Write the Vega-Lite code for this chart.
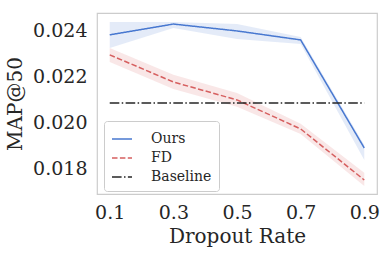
{
  "$schema": "https://vega.github.io/schema/vega-lite/v6.json",
  "width": 280,
  "height": 181,
  "autosize": "none",
  "padding": {"left": 97, "top": 13, "right": 12, "bottom": 59},
  "background": "white",
  "config": {
    "view": {"stroke": "#cccccc", "strokeWidth": 1.2},
    "font": "DejaVu Serif",
    "axis": {
      "domain": false, "ticks": false, "grid": false,
      "labelFont": "DejaVu Serif", "labelFontSize": 19, "labelColor": "#262626",
      "titleFont": "DejaVu Serif", "titleFontSize": 20, "titleFontWeight": "normal", "titleColor": "#262626"
    }
  },
  "datasets": {
    "lines": [
      {"series": "Ours", "rate": 0.1, "map": 0.02383},
      {"series": "Ours", "rate": 0.3, "map": 0.0243},
      {"series": "Ours", "rate": 0.5, "map": 0.0240},
      {"series": "Ours", "rate": 0.7, "map": 0.02361},
      {"series": "Ours", "rate": 0.9, "map": 0.01891},
      {"series": "FD", "rate": 0.1, "map": 0.02296},
      {"series": "FD", "rate": 0.3, "map": 0.02178},
      {"series": "FD", "rate": 0.5, "map": 0.0210},
      {"series": "FD", "rate": 0.7, "map": 0.01974},
      {"series": "FD", "rate": 0.9, "map": 0.01752},
      {"series": "Baseline", "rate": 0.1, "map": 0.02087},
      {"series": "Baseline", "rate": 0.9, "map": 0.02087}
    ],
    "bands": [
      {"series": "Ours", "rate": 0.1, "lo": 0.02326, "hi": 0.02439},
      {"series": "Ours", "rate": 0.3, "lo": 0.02413, "hi": 0.02439},
      {"series": "Ours", "rate": 0.5, "lo": 0.02365, "hi": 0.0243},
      {"series": "Ours", "rate": 0.7, "lo": 0.02343, "hi": 0.02374},
      {"series": "Ours", "rate": 0.9, "lo": 0.01839, "hi": 0.01904},
      {"series": "FD", "rate": 0.1, "lo": 0.02265, "hi": 0.02326},
      {"series": "FD", "rate": 0.3, "lo": 0.02148, "hi": 0.02209},
      {"series": "FD", "rate": 0.5, "lo": 0.0207, "hi": 0.0213},
      {"series": "FD", "rate": 0.7, "lo": 0.01952, "hi": 0.01996},
      {"series": "FD", "rate": 0.9, "lo": 0.01726, "hi": 0.01783}
    ]
  },
  "layer": [
    {
      "data": {"name": "bands"},
      "mark": {"type": "area", "opacity": 0.15},
      "encoding": {
        "x": {"field": "rate", "type": "quantitative", "scale": {"domain": [0.06, 0.94], "nice": false, "zero": false},
              "axis": {"values": [0.1, 0.3, 0.5, 0.7, 0.9], "format": ".1f", "labelPadding": 9, "titlePadding": 4, "title": "Dropout Rate"}},
        "y": {"field": "lo", "type": "quantitative", "scale": {"domain": [0.01691, 0.02478], "nice": false, "zero": false},
              "axis": {"values": [0.018, 0.020, 0.022, 0.024], "format": ".3f", "labelPadding": 10, "titlePadding": 7, "title": "MAP@50"}},
        "y2": {"field": "hi"},
        "fill": {"field": "series", "type": "nominal", "scale": {"domain": ["Ours", "FD"], "range": ["#4878d0", "#d65f5f"]}, "legend": null},
        "detail": {"field": "series"}
      }
    },
    {
      "data": {"name": "lines"},
      "mark": {"type": "line", "strokeWidth": 1.5},
      "encoding": {
        "x": {"field": "rate", "type": "quantitative"},
        "y": {"field": "map", "type": "quantitative"},
        "color": {"field": "series", "type": "nominal", "sort": ["Ours", "FD", "Baseline"],
                  "scale": {"domain": ["Ours", "FD", "Baseline"], "range": ["#4878d0", "#d65f5f", "#262626"]},
                  "legend": {"title": null, "orient": "none", "legendX": 7, "legendY": 108,
                             "symbolType": "stroke", "symbolStrokeWidth": 1.5, "symbolSize": 400,
                             "labelFont": "DejaVu Serif", "labelFontSize": 14, "labelColor": "#262626", "labelOffset": 18,
                             "rowPadding": 1, "padding": 7, "fillColor": "white", "strokeColor": "#cccccc", "cornerRadius": 3}},
        "strokeDash": {"field": "series", "type": "nominal", "sort": ["Ours", "FD", "Baseline"],
                       "scale": {"domain": ["Ours", "FD", "Baseline"], "range": [[1, 0], [5.5, 2.4], [9.6, 2.4, 1.5, 2.4]]},
                       "legend": {"title": null, "orient": "none", "legendX": 7, "legendY": 108}}
      }
    }
  ]
}
